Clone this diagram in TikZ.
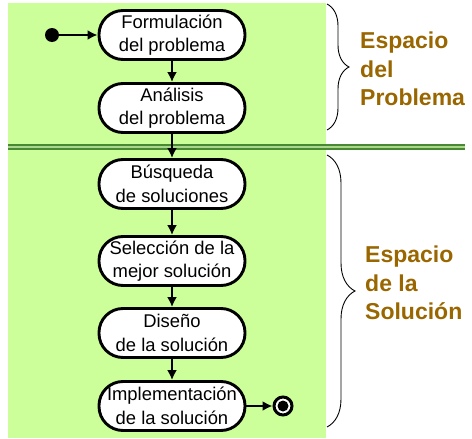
\documentclass[tikz,border=0pt]{standalone}
\usepackage{fontspec}
\setmainfont{Liberation Sans}
\usetikzlibrary{arrows.meta, positioning, decorations.pathreplacing}

\definecolor{fondo}{RGB}{204,255,153}
\definecolor{verdeoscuro}{RGB}{72,138,52}
\definecolor{verdeclaro}{RGB}{170,215,140}
\definecolor{marron}{RGB}{153,102,0}

\tikzset{
	actividad/.style={draw, line width=2.9pt, fill=white, rounded corners=24pt,
		minimum width=146pt, minimum height=49pt, align=center, inner sep=0pt,
		font=\fontsize{18.4}{23.5}\selectfont},
	flecha/.style={-{Latex[length=10pt,width=10pt]}, line width=2pt},
	espacio/.style={text=marron, anchor=west, align=left, inner sep=0pt,
		font=\bfseries\fontsize{23}{28.5}\selectfont},
	llave/.style={decorate, line width=0.9pt},
}

\begin{document}
\begin{tikzpicture}[x=1pt, y=-1pt]
		\useasboundingbox (0,0) rectangle (472,439);
		
		% Fondo
		\fill[fondo] (8,3) rectangle (326,438);
		\draw[verdeoscuro, line width=2pt, double=verdeclaro, double distance=2pt] (8,147) -- (465,147);
		
		% Actividades
		\node[circle, fill=black, minimum size=14pt, inner sep=0pt] (inicio) at (52,35) {};
		\node[actividad] (formulacion) at (172,35) {Formulación\\del problema};
		\node[actividad] (analisis) at (172,108) {Análisis\\del problema};
		\node[actividad] (busqueda) at (172,184) {Búsqueda\\de soluciones};
		\node[actividad] (seleccion) at (172,261) {Selección de la\\mejor solución};
		\node[actividad] (diseno) at (172,333) {Diseño\\de la solución};
		\node[actividad] (implementacion) at (172,406) {Implementación\\de la solución};
		\node[circle, draw, line width=3pt, fill=white, minimum size=18pt, inner sep=0pt] (fin) at (283,406) {};
		\fill (fin) circle (5.5pt);
		
		\draw[flecha] (inicio) -- (formulacion);
		\draw[flecha] (formulacion) -- (analisis);
		\draw[flecha] (analisis) -- (busqueda);
		\draw[flecha] (busqueda) -- (seleccion);
		\draw[flecha] (seleccion) -- (diseno);
		\draw[flecha] (diseno) -- (implementacion);
		\draw[flecha] (implementacion) -- (fin);
		
		% Espacios
		\draw[llave, decoration={brace, amplitude=22pt}] (327,4) -- (327,130);
		\draw[llave, decoration={brace, amplitude=28pt}] (327,155) -- (327,427);
		
		\node[espacio] (problema) at (360,69) {Espacio\\del\\Problema};
		\node[espacio] (solucion) at (365,283) {Espacio\\de la\\Solución};
	\end{tikzpicture}
\end{document}
